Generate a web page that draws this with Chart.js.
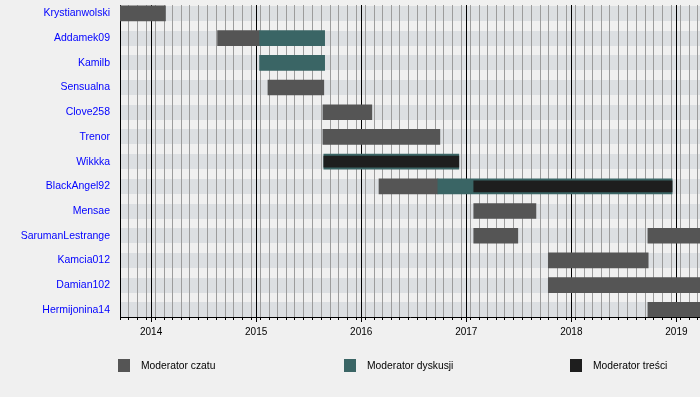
<!DOCTYPE html>
<html>
<head>
<meta charset="utf-8">
<script src="https://cdn.jsdelivr.net/npm/chart.js@4"></script>
<style>
html, body { margin: 0; padding: 0; background: #f0f0f0; }
#wrap { position: relative; width: 700px; height: 397px; overflow: hidden; }
#c { position: absolute; left: 0; top: 0; }
.lg { position: absolute; top: 359px; height: 13px; font-family: "Liberation Sans", Arial, sans-serif; font-size: 10.3px; color: #000; white-space: nowrap; }
.lg .sw { position: absolute; left: 0; top: 0; width: 12px; height: 13px; }
.lg .tx { position: absolute; left: 23px; top: 0; line-height: 14px; }
</style>
</head>
<body>
<div id="wrap">
  <canvas id="c" width="700" height="397"></canvas>
  <div id="legend"></div>
</div>
<script>
// ---- data ----
const users = ['Krystianwolski', 'Addamek09', 'Kamilb', 'Sensualna', 'Clove258', 'Trenor', 'Wikkka',
  'BlackAngel92', 'Mensae', 'SarumanLestrange', 'Kamcia012', 'Damian102', 'Hermijonina14'];
const roles = ['Moderator czatu', 'Moderator dyskusji', 'Moderator treści'];
const roleColors = ['#555555', '#3a6565', '#1e1e1e'];
const yearTicks = [2014, 2015, 2016, 2017, 2018, 2019];
const axisStart = '2013-09-15';
const axisEnd = '2019-03-24';

const czatuBars = [
  ['Krystianwolski', '2013-09-15', '2014-02-20'],
  ['Addamek09', '2014-08-20', '2015-01-13'],
  ['Sensualna', '2015-02-11', '2015-08-24'],
  ['Clove258', '2015-08-21', '2016-02-07'],
  ['Trenor', '2015-08-21', '2016-10-01'],
  ['BlackAngel92', '2016-03-03', '2016-09-24'],
  ['Mensae', '2017-01-27', '2017-08-31'],
  ['SarumanLestrange', '2017-01-27', '2017-06-29'],
  ['SarumanLestrange', '2018-09-24', '2019-04-30'],
  ['Kamcia012', '2017-10-13', '2018-09-25'],
  ['Damian102', '2017-10-13', '2019-04-30'],
  ['Hermijonina14', '2018-09-24', '2019-04-30']
];
const dyskusjiBars = [
  ['Addamek09', '2015-01-13', '2015-08-27'],
  ['Kamilb', '2015-01-13', '2015-08-27'],
  ['Wikkka', '2015-08-24', '2016-12-06'],
  ['BlackAngel92', '2016-09-24', '2018-12-17']
];
const tresciBars = [
  ['Wikkka', '2015-08-24', '2016-12-06'],
  ['BlackAngel92', '2017-01-27', '2018-12-17']
];

// ---- helpers ----
function toYear(d) {
  const [y, m, day] = d.split('-').map(Number);
  const t = Date.UTC(y, m - 1, day);
  const a = Date.UTC(y, 0, 1), b = Date.UTC(y + 1, 0, 1);
  return y + (t - a) / (b - a);
}
function toPoints(list) {
  return list.map(([u, s, e]) => ({ y: users.indexOf(u), x: [toYear(s), toYear(e)] }));
}
const xMin = toYear(axisStart), xMax = toYear(axisEnd);

// monthly minor grid (15th of each month)
const minorTicks = [];
for (let y = 2013; y <= 2019; y++) {
  for (let m = 1; m <= 12; m++) {
    const v = toYear(y + '-' + String(m).padStart(2, '0') + '-15');
    if (v >= xMin - 1e-6 && v <= xMax) minorTicks.push(v);
  }
}

// ---- stripes plugin ----
const stripes = {
  id: 'stripes',
  beforeDraw(chart) {
    const { ctx, chartArea: a, scales: { y } } = chart;
    ctx.save();
    ctx.beginPath();
    ctx.rect(a.left, a.top, a.right - a.left, a.bottom - a.top);
    ctx.clip();
    ctx.fillStyle = '#dcdfe2';
    users.forEach((u, i) => {
      const c = y.getPixelForValue(i);
      ctx.fillRect(a.left, Math.round(c - 7.5), a.right - a.left, 15);
    });
    ctx.restore();
  }
};

const mk = (label, list, color, thick, order) => ({
  label, data: toPoints(list), backgroundColor: color, borderWidth: 0,
  barThickness: thick, grouped: false, order
});

new Chart(document.getElementById('c'), {
  type: 'bar',
  data: {
    datasets: [
      mk(roles[0], czatuBars, roleColors[0], 15, 3),
      mk(roles[1], dyskusjiBars, roleColors[1], 15, 2),
      mk(roles[2], tresciBars, roleColors[2], 11, 1)
    ]
  },
  options: {
    indexAxis: 'y',
    responsive: false,
    animation: false,
    layout: { padding: { top: 5, bottom: 50, left: 0, right: 0 } },
    plugins: { legend: { display: false }, tooltip: { enabled: false } },
    scales: {
      x2: {
        type: 'linear', position: 'bottom', weight: -1,
        min: xMin, max: xMax, offset: false,
        afterBuildTicks: s => { s.ticks = minorTicks.map(v => ({ value: v })); },
        afterFit: s => { s.height = 0; s.paddingLeft = 0; s.paddingRight = 0; },
        grid: { color: '#9c9c9c', lineWidth: 1, tickLength: 3, tickColor: '#000', drawOnChartArea: true, offset: false },
        border: { display: false },
        ticks: { display: false }
      },
      x: {
        type: 'linear', position: 'bottom',
        min: xMin, max: xMax, offset: false,
        afterBuildTicks: s => { s.ticks = yearTicks.map(v => ({ value: v })); },
        afterFit: s => { s.height = 30; s.paddingLeft = 0; s.paddingRight = 0; },
        grid: { color: '#000', lineWidth: 1, tickLength: 5, tickColor: '#000', offset: false },
        border: { display: true, color: '#000', width: 1 },
        ticks: {
          autoSkip: false, maxRotation: 0, padding: 4, color: '#000',
          font: { family: '"Liberation Sans", Arial, sans-serif', size: 10 },
          callback: v => String(v)
        }
      },
      y: {
        type: 'linear', position: 'left', reverse: true,
        min: -0.34, max: 12.29, offset: false,
        afterBuildTicks: s => { s.ticks = users.map((u, i) => ({ value: i })); },
        afterFit: s => { s.width = 120; s.paddingTop = 0; s.paddingBottom = 0; },
        grid: { display: false, drawTicks: false, offset: false },
        border: { display: true, color: '#000', width: 1 },
        ticks: {
          autoSkip: false, padding: 10, color: '#0000ff',
          font: { family: '"Liberation Sans", Arial, sans-serif', size: 10.5 },
          callback: v => users[v]
        }
      }
    }
  },
  plugins: [stripes]
});

// ---- legend ----
const legendX = [118, 344, 570];
const lg = document.getElementById('legend');
roles.forEach((r, i) => {
  const d = document.createElement('div');
  d.className = 'lg';
  d.style.left = legendX[i] + 'px';
  d.innerHTML = '<span class="sw" style="background:' + roleColors[i] + '"></span><span class="tx"></span>';
  d.querySelector('.tx').textContent = r;
  lg.appendChild(d);
});
</script>
</body>
</html>
